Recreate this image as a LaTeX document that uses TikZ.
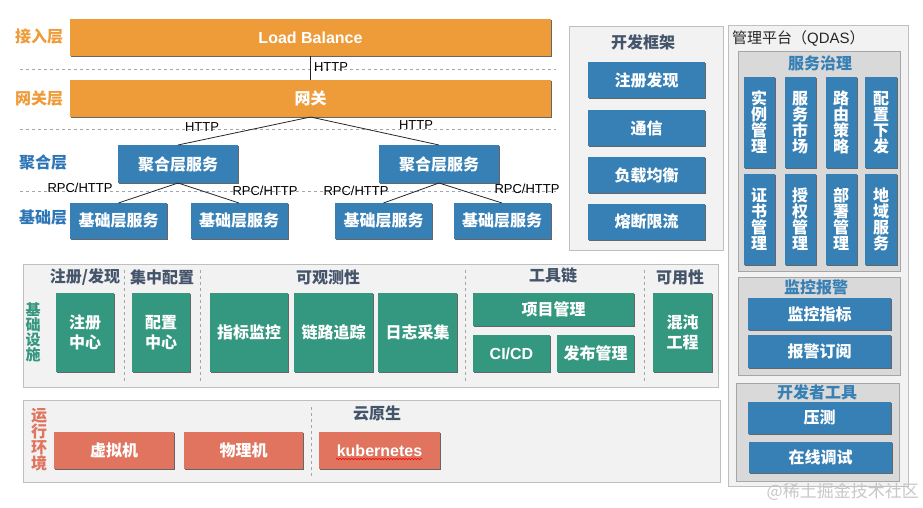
\documentclass[tikz,border=0pt]{standalone}
\usepackage{fontspec}
\setmainfont{Noto Sans CJK SC}
\newfontfamily\latin{Liberation Sans}
\usepackage{xcolor}
\usepackage{tikz}
\usetikzlibrary{shadows,decorations.pathmorphing}

\definecolor{lborange}{HTML}{EE9B3A}
\definecolor{svcblue}{HTML}{3680B5}
\definecolor{infgreen}{HTML}{34977F}
\definecolor{envred}{HTML}{E0745E}
\definecolor{panelbg}{HTML}{F2F2F2}
\definecolor{panelline}{HTML}{BFBFBF}
\definecolor{subbg}{HTML}{D9D9D9}
\definecolor{subline}{HTML}{A6A6A6}
\definecolor{headtext}{HTML}{44546A}
\definecolor{layerblue}{HTML}{2E75B6}
\newcommand{\fsz}[2]{\fontsize{#1}{#2}\selectfont}

\begin{document}
\begin{tikzpicture}[x=1pt, y=-1pt,
  wh/.style 2 args={minimum width=#1, minimum height=#2},
  box/.style={rectangle, inner sep=0pt, outer sep=0pt, text=white,
              font=\fsz{16}{16}\bfseries,
              drop shadow={shadow xshift=1.3pt, shadow yshift=-1.3pt,
                           fill=black!60, opacity=1}},
  obox/.style={box, fill=lborange},
  bbox/.style={box, fill=svcblue},
  gbox/.style={box, fill=infgreen, align=center},
  rbox/.style={box, fill=envred},
  vbox/.style={bbox, align=center},
  panel/.style={rectangle, draw=panelline, fill=panelbg, line width=1pt,
                inner sep=0pt},
  subpanel/.style={rectangle, draw=subline, fill=subbg, line width=1pt,
                   inner sep=0pt},
  head/.style={font=\fsz{16}{16}\bfseries, text=#1, inner sep=0pt},
  head/.default=headtext,
  layer/.style={font=\fsz{16}{16}\bfseries, text=#1, inner sep=0pt,
                align=center},
  proto/.style={font=\latin\fsz{13}{13}, inner sep=0pt},
  link/.style={draw=black!85, line width=0.8pt},
  sep/.style={draw=black!35, dashed, line width=0.8pt},
]
  \useasboundingbox (0,0) rectangle (923,508);

  % Access and gateway layer
  \draw[sep] (20,69) -- (556,69);
  \draw[sep] (20,129) -- (556,129);
  \draw[sep] (20,191) -- (556,191);
  \node[layer=lborange] (accessL) at (39,36) {接入层};
  \node[layer=lborange] (gateL) at (39,99) {网关层};
  \node[layer=layerblue] (aggL) at (43,162) {聚合层};
  \node[layer=layerblue] (baseL) at (43,218) {基础层};

  \node[obox, wh={481}{37}, font=\latin\fsz{16}{16}\bfseries] (lb) at (310.5,37.5) {Load Balance};
  \node[obox, wh={481}{37}] (gw) at (310.5,98.5) {网关};

  % Aggregation and base services
  \node[bbox, wh={120}{38}] (agg1) at (178,164) {聚合层服务};
  \node[bbox, wh={120}{38}] (agg2) at (439,164) {聚合层服务};
  \node[bbox, wh={97}{36}] (base1) at (118.5,221) {基础层服务};
  \node[bbox, wh={97}{36}] (base2) at (239,221) {基础层服务};
  \node[bbox, wh={97}{36}] (base3) at (383.5,221) {基础层服务};
  \node[bbox, wh={97}{36}] (base4) at (502,221) {基础层服务};

  % Links
  \draw[link] (lb) -- (gw);
  \draw[link] (gw.south) -- (agg1.north);
  \draw[link] (gw.south) -- (agg2.north);
  \draw[link] (agg1.south) -- (base1.north);
  \draw[link] (agg1.south) -- (base2.north);
  \draw[link] (agg2.south) -- (base3.north);
  \draw[link] (agg2.south) -- (base4.north);
  \node[proto] (http0) at (331,67) {HTTP};
  \node[proto] (http1) at (202,127) {HTTP};
  \node[proto] (http2) at (416,125) {HTTP};
  \node[proto] (rpc1) at (80,188) {RPC/HTTP};
  \node[proto] (rpc2) at (265,191) {RPC/HTTP};
  \node[proto] (rpc3) at (356,191) {RPC/HTTP};
  \node[proto] (rpc4) at (527,189) {RPC/HTTP};

  % Dev framework
  \node[panel, wh={154}{223}] (devfw) at (646,138.5) {};
  \node[head] (devfwT) at (643,42) {开发框架};
  \node[bbox, wh={117}{36}] (discover) at (646.5,80) {注册发现};
  \node[bbox, wh={117}{36}] (comm) at (646.5,128) {通信};
  \node[bbox, wh={117}{36}] (balance) at (646.5,175) {负载均衡};
  \node[bbox, wh={117}{36}] (breaker) at (646.5,221.5) {熔断限流};

  % Management platform
  \node[panel, wh={180}{460}] (mgmt) at (818,256) {};
  \node[anchor=west, inner sep=0pt, font=\fsz{15}{15}, text=black!85] (mgmtT) at (732,38)
    {管理平台（{\latin QDAS}）};
  \node[subpanel, wh={162}{219}] (govern) at (819,161.5) {};
  \node[head=svcblue] (governT) at (820,63) {服务治理};
  \node[vbox, wh={31}{91}] (inst) at (759,122.5) {实\\例\\管\\理};
  \node[vbox, wh={31}{91}] (market) at (800,122.5) {服\\务\\市\\场};
  \node[vbox, wh={31}{91}] (route) at (841,122.5) {路\\由\\策\\略};
  \node[vbox, wh={32}{91}] (cfgpush) at (881,122.5) {配\\置\\下\\发};
  \node[vbox, wh={31}{91}] (cert) at (759,219.5) {证\\书\\管\\理};
  \node[vbox, wh={31}{91}] (auth) at (800,219.5) {授\\权\\管\\理};
  \node[vbox, wh={31}{91}] (deploy) at (841,219.5) {部\\署\\管\\理};
  \node[vbox, wh={32}{91}] (region) at (881,219.5) {地\\域\\服\\务};

  \node[subpanel, wh={162}{98}] (alarm) at (819,326) {};
  \node[head=svcblue] (alarmT) at (816,287) {监控报警};
  \node[bbox, wh={143}{32}] (metric) at (819.5,314) {监控指标};
  \node[bbox, wh={143}{33}] (notify) at (819.5,351.5) {报警订阅};

  \node[subpanel, wh={163}{98}] (devtool) at (817.5,432) {};
  \node[head=svcblue] (devtoolT) at (817,392) {开发者工具};
  \node[bbox, wh={143}{32}] (stress) at (819.5,418) {压测};
  \node[bbox, wh={143}{31}] (debug) at (820.5,457.5) {在线调试};

  % Infrastructure
  \node[panel, wh={695}{123}] (infra) at (370.5,325.5) {};
  \node[layer=infgreen, font=\fsz{15}{15}\bfseries] (infraL) at (33,332) {基\\础\\设\\施};
  \draw[sep] (124,270) -- (124,384);
  \draw[sep] (200,270) -- (200,384);
  \draw[sep] (465,270) -- (465,384);
  \draw[sep] (644,270) -- (644,384);
  \node[head] (regT) at (85,277) {注册/发现};
  \node[head] (cfgT) at (162,277) {集中配置};
  \node[head] (obsT) at (328,277) {可观测性};
  \node[head] (toolT) at (553,275) {工具链};
  \node[head] (availT) at (680,277) {可用性};
  \node[gbox, wh={58}{79}, font=\fsz{16}{20}\bfseries] (regc) at (85,332.5) {注册\\中心};
  \node[gbox, wh={58}{79}, font=\fsz{16}{20}\bfseries] (cfgc) at (161,332.5) {配置\\中心};
  \node[gbox, wh={78}{79}] (mon) at (249,332.5) {指标监控};
  \node[gbox, wh={79}{79}] (trace) at (333.5,332.5) {链路追踪};
  \node[gbox, wh={79}{79}] (logs) at (417.5,332.5) {日志采集};
  \node[gbox, wh={161}{33}] (proj) at (553.5,309.5) {项目管理};
  \node[gbox, wh={77}{37}, font=\latin\fsz{16}{16}\bfseries] (cicd) at (511.5,353.5) {CI/CD};
  \node[gbox, wh={77}{37}] (release) at (595.5,353.5) {发布管理};
  \node[gbox, wh={59}{79}, font=\fsz{16}{20}\bfseries] (chaos) at (682.5,332.5) {混沌\\工程};

  % Runtime
  \node[panel, wh={697}{82}] (runtime) at (371.5,441) {};
  \node[layer=envred] (runL) at (39,440) {运\\行\\环\\境};
  \draw[sep] (311,407) -- (311,477);
  \node[head] (cloudT) at (377,413) {云原生};
  \node[rbox, wh={120}{37}] (vm) at (114,450.5) {虚拟机};
  \node[rbox, wh={119}{37}] (pm) at (243.5,450.5) {物理机};
  \node[rbox, wh={121}{37}, font=\latin\fsz{16}{16}\bfseries] (k8s) at (379.5,450.5) {kubernetes};
  \draw[red, line width=0.6pt, decorate,
        decoration={snake, segment length=3pt, amplitude=0.7pt}]
    ([xshift=17pt, yshift=10pt]k8s.south west) -- ([xshift=-18pt, yshift=10pt]k8s.south east);

  \node[anchor=east, inner sep=0pt, font=\fsz{17}{17}, text=black!22] (mark) at (919,492)
    {@稀土掘金技术社区};
\end{tikzpicture}
\end{document}
